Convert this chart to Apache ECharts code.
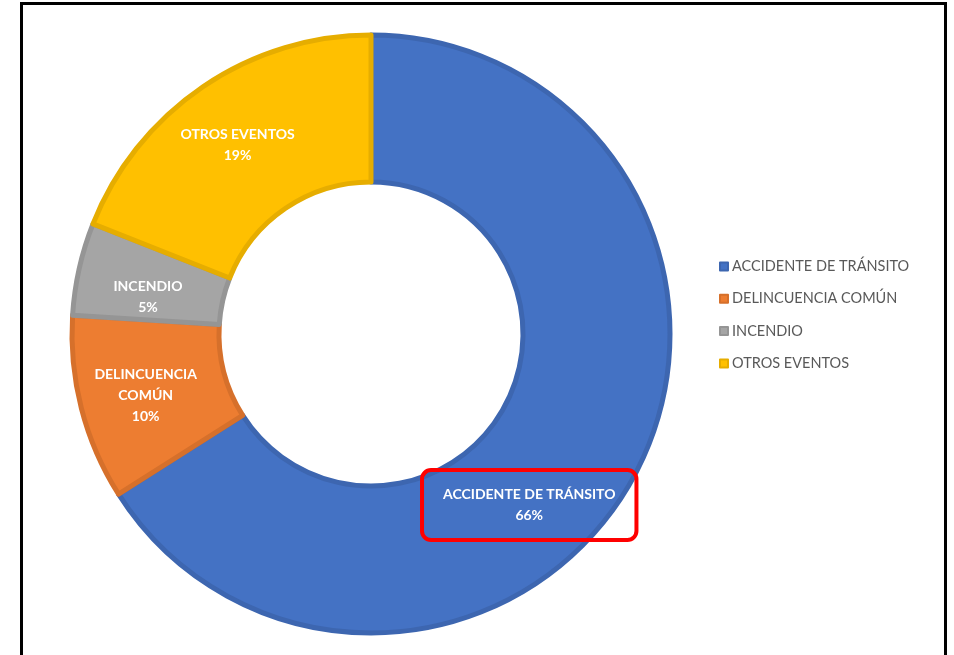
<!DOCTYPE html>
<html>
<head>
<meta charset="utf-8">
<script src="https://cdn.jsdelivr.net/npm/echarts@6/dist/echarts.min.js"></script>
<style>
    html, body { margin: 0; padding: 0; background: #fff; }
    #chart { width: 954px; height: 655px; }
</style>
</head>
<body>
<div id="chart"></div>
<script>
// 数据
const categories = ['ACCIDENTE DE TRÁNSITO', 'DELINCUENCIA COMÚN', 'INCENDIO', 'OTROS EVENTOS'];
const values = [66, 10, 5, 19];
const labelNames = ['ACCIDENTE DE TRÁNSITO', 'DELINCUENCIA\nCOMÚN', 'INCENDIO', 'OTROS EVENTOS'];

// 颜色
const fillColors = ['#4472C4', '#ED7D31', '#A5A5A5', '#FFC000'];
const edgeColors = ['#3D66B0', '#D6702B', '#959595', '#E6AD00'];

const FONT = 'Lato, "Liberation Sans", sans-serif';

const chart = echarts.init(document.getElementById('chart'));

const pieData = categories.map((name, i) => {
    const item = {
        name: name,
        value: values[i],
        itemStyle: { color: fillColors[i], borderColor: edgeColors[i], borderWidth: 5 },
        label: {
            formatter: labelNames[i] + '\n{d}%'
        }
    };
    // 红框标注
    if (i === 0) {
        item.label.borderColor = '#FF0000';
        item.label.borderWidth = 4;
        item.label.borderRadius = 9;
        item.label.padding = [14, 21, 14, 21];
    }
    return item;
});

chart.setOption({
    animation: false,
    graphic: [{
        type: 'rect',
        shape: { x: 21.5, y: 3.5, width: 924, height: 700 },
        style: { fill: 'none', stroke: '#000', lineWidth: 3 },
        silent: true
    }],
    legend: {
        orient: 'vertical',
        left: 714,
        top: 254,
        itemWidth: 8,
        itemHeight: 8,
        itemGap: 17.3,
        icon: 'rect',
        textStyle: { color: '#595959', fontSize: 14.5, fontFamily: FONT, lineHeight: 14, padding: [0, 0, 0, -1] },
        data: categories
    },
    series: [{
        type: 'pie',
        center: [371, 334],
        radius: [152, 299],
        startAngle: 90,
        clockwise: true,
        data: pieData,
        label: {
            show: true,
            position: 'inside',
            color: '#fff',
            fontWeight: 'bold',
            fontSize: 14,
            lineHeight: 21,
            fontFamily: FONT
        },
        labelLine: { show: false },
        labelLayout: function(params) {
            if (params.dataIndex === 0) return { dx: -42, dy: 61 };
            if (params.dataIndex === 2) return { dy: 13 };
            if (params.dataIndex === 1) return { dx: -4, dy: 5 };
            if (params.dataIndex === 3) return { dx: -5 };
            return {};
        },
        emphasis: { disabled: true }
    }]
});
</script>
</body>
</html>
